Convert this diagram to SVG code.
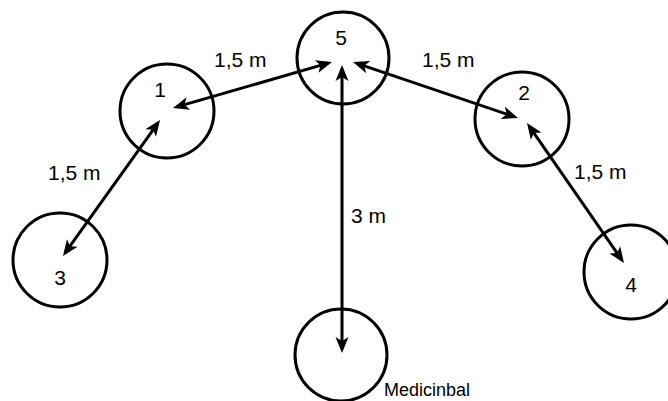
<svg xmlns="http://www.w3.org/2000/svg" width="668" height="401" viewBox="0 0 668 401">
<style>
.node{fill:none;stroke:#000;stroke-width:3}
.lbl{font-family:"Liberation Sans",Arial,sans-serif;font-size:21px;fill:#000}
.c{text-anchor:middle}
.edge{stroke:#000;stroke-width:3;fill:none;marker-start:url(#ah);marker-end:url(#ah)}
</style>
<defs>
<marker id="ah" markerUnits="userSpaceOnUse" viewBox="-17 -7 18 14" markerWidth="18" markerHeight="14" refX="-4" refY="0" orient="auto-start-reverse">
<path d="M0,0 L-16,-6.5 L-12,0 L-16,6.5 Z" fill="#000"/>
</marker>
</defs>
<rect width="668" height="401" fill="#fff"/>
<g id="connectors">
<line class="edge" x1="176.8" y1="106.9" x2="328.2" y2="63.1"/>
<line class="edge" x1="356.8" y1="63.3" x2="514.2" y2="116.7"/>
<line class="edge" x1="157.7" y1="123.3" x2="65.3" y2="252.7"/>
<line class="edge" x1="529.3" y1="126.3" x2="621.7" y2="259.7"/>
<line class="edge" x1="342" y1="69" x2="342" y2="349"/>
<text class="lbl" x="214" y="67">1,5 m</text>
<text class="lbl" x="422" y="67">1,5 m</text>
<text class="lbl" x="48" y="180">1,5 m</text>
<text class="lbl" x="574" y="179">1,5 m</text>
<text class="lbl" x="351" y="223">3 m</text>
</g>
<g id="n1"><circle class="node" cx="167" cy="111" r="47"/><text class="lbl c" x="160" y="97">1</text></g>
<g id="n5"><circle class="node" cx="343" cy="58" r="46"/><text class="lbl c" x="341" y="45">5</text></g>
<g id="n2"><circle class="node" cx="522" cy="119" r="47"/><text class="lbl c" x="524" y="100">2</text></g>
<g id="n3"><circle class="node" cx="60" cy="260" r="47"/><text class="lbl c" x="60" y="285">3</text></g>
<g id="n4"><circle class="node" cx="631" cy="272" r="47"/><text class="lbl c" x="631" y="292">4</text></g>
<g id="nball"><circle class="node" cx="341" cy="355" r="46"/><text class="lbl" x="384" y="396" style="font-size:18px">Medicinbal</text></g>
</svg>
